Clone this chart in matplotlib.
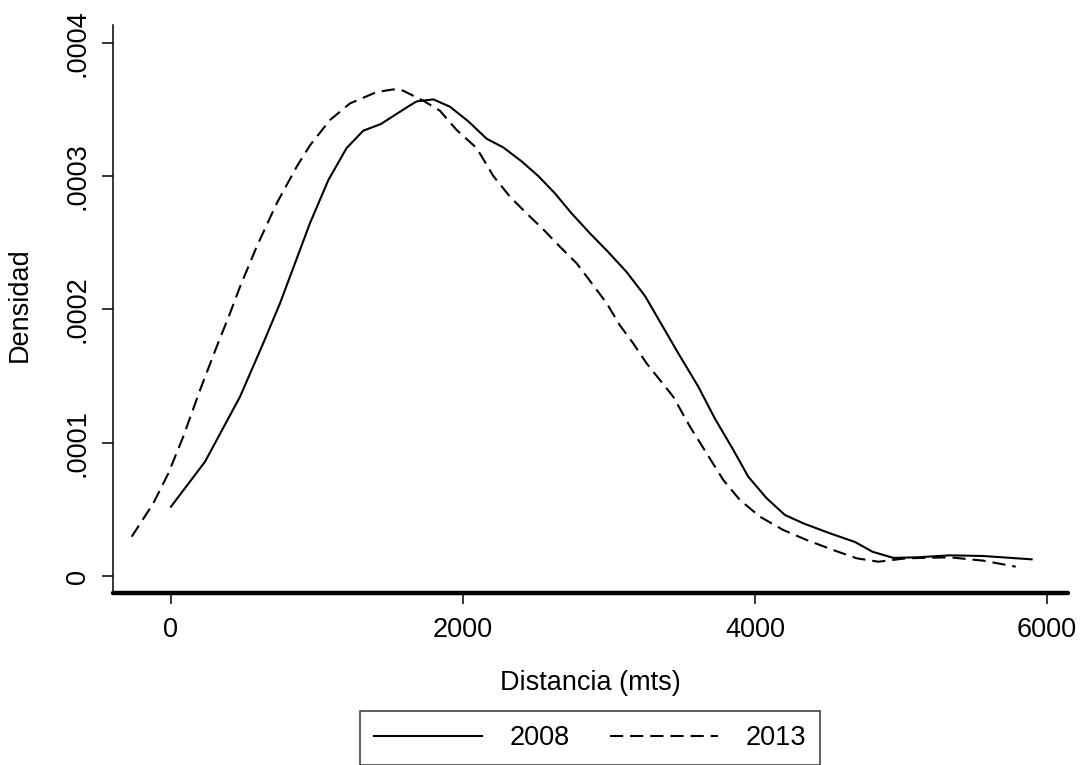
import matplotlib
matplotlib.use("Agg")
import matplotlib.pyplot as plt

plt.rcParams['font.family'] = ['Liberation Sans', 'DejaVu Sans']
plt.rcParams['lines.scale_dashes'] = False

# 2008 density (solid)
x2008 = [0, 233, 473, 632, 747, 952, 1078, 1203, 1317, 1437, 1637, 1683, 1797, 1911,
         2037, 2162, 2276, 2402, 2516, 2630, 2744, 2870, 2995, 3121, 3247, 3475, 3612,
         3726, 3852, 3954, 4080, 4205, 4331, 4514, 4685, 4805, 4947, 5107, 5336, 5564, 5895]
y2008 = [5.2e-5, 8.57e-5, 1.345e-4, 1.746e-4, 2.046e-4, 2.646e-4, 2.97e-4, 3.21e-4, 3.34e-4,
         3.39e-4, 3.53e-4, 3.56e-4, 3.575e-4, 3.52e-4, 3.41e-4, 3.28e-4, 3.215e-4, 3.11e-4,
         3.0e-4, 2.87e-4, 2.72e-4, 2.57e-4, 2.43e-4, 2.28e-4, 2.1e-4, 1.67e-4, 1.42e-4,
         1.18e-4, 9.45e-5, 7.45e-5, 5.83e-5, 4.58e-5, 3.95e-5, 3.2e-5, 2.55e-5, 1.82e-5,
         1.36e-5, 1.4e-5, 1.55e-5, 1.5e-5, 1.25e-5]

# 2013 density (dashed)
x2013 = [-269, -121, -18, 84, 199, 313, 404, 473, 587, 724, 861, 952, 1089, 1226, 1409,
         1523, 1591, 1728, 1842, 1957, 2094, 2208, 2322, 2436, 2550, 2664, 2779, 2893,
         2984, 3075, 3166, 3258, 3440, 3555, 3669, 3783, 3897, 4034, 4194, 4354, 4536,
         4696, 4845, 5038, 5336, 5564, 5786]
y2013 = [2.95e-5, 5.45e-5, 7.7e-5, 1.045e-4, 1.395e-4, 1.72e-4, 1.97e-4, 2.17e-4, 2.47e-4,
         2.795e-4, 3.07e-4, 3.23e-4, 3.42e-4, 3.545e-4, 3.63e-4, 3.65e-4, 3.64e-4, 3.565e-4,
         3.49e-4, 3.345e-4, 3.21e-4, 3.0e-4, 2.845e-4, 2.72e-4, 2.6e-4, 2.47e-4, 2.345e-4,
         2.18e-4, 2.046e-4, 1.88e-4, 1.745e-4, 1.595e-4, 1.345e-4, 1.12e-4, 9.2e-5, 7.2e-5,
         5.7e-5, 4.45e-5, 3.45e-5, 2.7e-5, 1.95e-5, 1.33e-5, 1.07e-5, 1.33e-5, 1.4e-5,
         1.15e-5, 7e-6]

xticks = [0, 2000, 4000, 6000]
xticklabels = ['0', '2000', '4000', '6000']
yticks = [0, 0.0001, 0.0002, 0.0003, 0.0004]
yticklabels = ['0', '.0001', '.0002', '.0003', '.0004']

W, H = 1087, 765
fig = plt.figure(figsize=(W / 100, H / 100), dpi=100)
left, right, top, bottom = 113, 1068, 25, 593
ax = fig.add_axes([left / W, (H - bottom) / H, (right - left) / W, (bottom - top) / H])

fs = 19.5
l1, = ax.plot(x2008, y2008, color='black', lw=1.5, label='2008', solid_joinstyle='round')
l2, = ax.plot(x2013, y2013, color='black', lw=1.5, label='2013', dashes=(9.5, 5))

ax.set_xlim(-397, 6144)
ax.set_ylim(-1.275e-5, 4.133e-4)

for s in ['top', 'right']:
    ax.spines[s].set_visible(False)
ax.spines['left'].set_linewidth(1.1)
ax.spines['bottom'].set_linewidth(3.2)
ax.spines['bottom'].set_capstyle('round')

ax.set_xticks(xticks)
ax.set_xticklabels(xticklabels)
ax.set_yticks(yticks)
ax.set_yticklabels(yticklabels)
ax.tick_params(axis='x', length=8, width=1.1, pad=9, labelsize=fs, direction='out')
ax.tick_params(axis='y', length=8, width=1.1, pad=8, labelsize=fs, direction='out')
for lab in ax.get_yticklabels():
    lab.set_rotation(90)
    lab.set_va('center')

fig.text(20 / W, 1 - 305 / H, 'Densidad', rotation=90, fontsize=fs, ha='center', va='center')
fig.text(590 / W, 1 - 683 / H, 'Distancia (mts)', fontsize=fs, ha='center', va='center')

leg = fig.legend(handles=[l1, l2], loc='center', bbox_to_anchor=(590 / W, 1 - 738 / H),
                 ncol=2, frameon=True, fancybox=False, fontsize=fs, handlelength=4,
                 handletextpad=1.0, columnspacing=1.5, borderpad=0.5, borderaxespad=0,
                 edgecolor='black')
leg.get_frame().set_linewidth(1.1)

fig.savefig('out.png', dpi=100, facecolor='white')
